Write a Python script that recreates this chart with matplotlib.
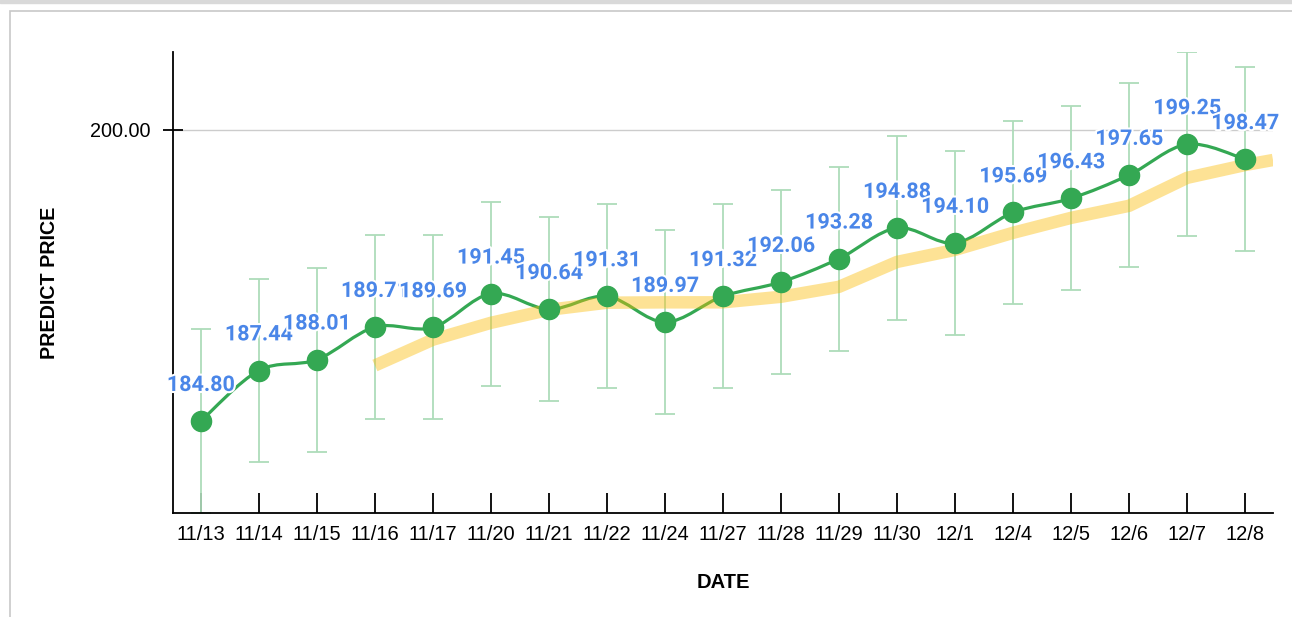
import numpy as np
import matplotlib.pyplot as plt
import matplotlib.patheffects as pe
from matplotlib.path import Path
from matplotlib.patches import PathPatch, Rectangle

# data
dates = ['11/13', '11/14', '11/15', '11/16', '11/17', '11/20', '11/21', '11/22', '11/24',
         '11/27', '11/28', '11/29', '11/30', '12/1', '12/4', '12/5', '12/6', '12/7', '12/8']
price = [184.80, 187.44, 188.01, 189.71, 189.69, 191.45, 190.64, 191.31, 189.97,
         191.32, 192.06, 193.28, 194.88, 194.10, 195.69, 196.43, 197.65, 199.25, 198.47]
err = [4.8] * len(price)

# yellow trend line (starts at 11/16, runs on to the right edge)
trend_x = [3, 4, 5, 6, 7, 8, 9, 10, 11, 12, 13, 14, 15, 16, 17, 18, 18.48]
trend_y = [187.70, 189.05, 189.93, 190.61, 190.98, 191.00, 191.00, 191.29, 191.81,
           193.11, 193.74, 194.63, 195.41, 196.04, 197.50, 198.17, 198.43]

green = '#34a853'
x = np.arange(len(dates))

fig = plt.figure(figsize=(12.92, 6.17), dpi=100)
# page frame
fig.patches.append(Rectangle((0, 1 - 3 / 617), 1, 3 / 617, transform=fig.transFigure,
                             color='#d9d9d9', zorder=0))
fig.patches.append(Rectangle((10 / 1292, -0.1), 1.2, 1.1 - 11 / 617, transform=fig.transFigure,
                             fill=False, edgecolor='#c8c8c8', lw=1.2, zorder=0))

ax = fig.add_axes([173 / 1292, 1 - 513 / 617, 1100 / 1292, 461 / 617])

ax.errorbar(x, price, yerr=err, fmt='none', ecolor='#aedcba', elinewidth=1.3,
            capsize=7.2, capthick=1.3, zorder=2)

# smooth line through the points (catmull-rom as bezier)
pts = np.column_stack([x, price])
verts = [pts[0]]
codes = [Path.MOVETO]
for i in range(len(pts) - 1):
    p0 = pts[max(i - 1, 0)]
    p1 = pts[i]
    p2 = pts[i + 1]
    p3 = pts[min(i + 2, len(pts) - 1)]
    c1 = p1 + (p2 - p0) / 6
    c2 = p2 - (p3 - p1) / 6
    verts += [c1, c2, p2]
    codes += [Path.CURVE4] * 3
ax.add_patch(PathPatch(Path(verts, codes), fill=False, edgecolor=green, lw=2.3, zorder=3))

ax.plot(trend_x, trend_y, color='#fbbc04', alpha=0.42, lw=9, solid_capstyle='butt', zorder=4)
ax.plot(x, price, 'o', color=green, ms=14.5, zorder=5)

for xi, yi in zip(x, price):
    ax.annotate(f'{yi:.2f}', (xi, yi), xytext=(0, 26), textcoords='offset points',
                ha='center', va='center', fontsize=15.5, fontweight='bold',
                family='Roboto', color='#4a86e8', zorder=6,
                path_effects=[pe.withStroke(linewidth=3, foreground='white')])

ax.set_xlim(-0.48, 18.48)
ax.set_ylim(180.0, 204.07)
ax.set_xticks(x)
ax.set_xticklabels(dates)
ax.set_yticks([200])
ax.set_yticklabels(['200.00'])
ax.yaxis.grid(True, color='#cccccc', lw=1)
ax.set_axisbelow(True)

for s in ['top', 'right']:
    ax.spines[s].set_visible(False)
for s in ['left', 'bottom']:
    ax.spines[s].set_linewidth(1.3)
    ax.spines[s].set_color('black')

ax.tick_params(axis='x', direction='in', length=14.4, width=1.3, pad=9,
               labelsize=14.5, labelfontfamily='Liberation Sans')
ax.tick_params(axis='y', direction='inout', length=14.4, width=1.3, pad=9,
               labelsize=14.3, labelfontfamily='Liberation Sans')

ax.set_xlabel('DATE', fontsize=14.5, fontweight='bold', family='Liberation Sans')
ax.xaxis.set_label_coords(0.5, -69 / 461)
ax.set_ylabel('PREDICT PRICE', fontsize=14.2, fontweight='bold', family='Liberation Sans')
ax.yaxis.set_label_coords(-123 / 1100, 0.5)
ax.xaxis.label.set_verticalalignment('center')
ax.yaxis.label.set_verticalalignment('center')

fig.savefig('out.png', dpi=100)
